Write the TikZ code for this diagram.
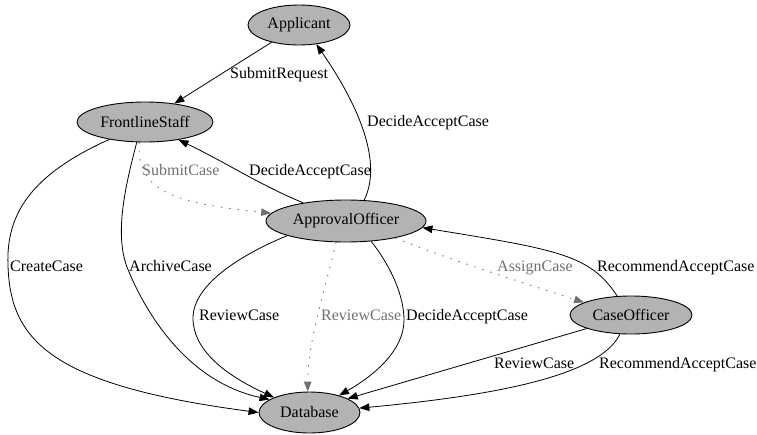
\documentclass[tikz,border=0pt]{standalone}
\usepackage{fontspec}
\setmainfont{Liberation Serif}
\usetikzlibrary{shapes.geometric,arrows.meta}

\definecolor{nodefill}{HTML}{B3B3B3}
\definecolor{dotgray}{HTML}{707070}

\begin{document}
\begin{tikzpicture}[x=1pt,y=-1pt,
  font=\fontsize{16}{18}\selectfont,
  state/.style={ellipse, draw, fill=nodefill, line width=0.9pt, inner sep=0pt},
  flow/.style={draw, line width=0.8pt, -{Triangle[length=10pt,width=7.5pt]}},
  weak/.style={draw=dotgray, line width=0.9pt, dash pattern=on 1.4pt off 7pt,
    -{Triangle[length=10pt,width=7.5pt,fill=dotgray]}},
  lbl/.style={anchor=mid west, inner sep=0pt, yshift=-1.5pt},
  weaklbl/.style={lbl, text=dotgray}]

\useasboundingbox (0,0) rectangle (757,434);

% actors and the shared store
\node[state, minimum width=102pt, minimum height=40pt] (app) at (299,25) {Applicant};
\node[state, minimum width=136pt, minimum height=40pt] (fs) at (145,122) {FrontlineStaff};
\node[state, minimum width=160pt, minimum height=42pt] (ao) at (346,221) {ApprovalOfficer};
\node[state, minimum width=122pt, minimum height=38pt] (co) at (631,315) {CaseOfficer};
\node[state, minimum width=101pt, minimum height=41pt] (db) at (309.5,412.5) {Database};

% interactions between actors
\draw[flow] (app) -- (fs);
\draw[flow] (ao.49) .. controls (384,160) and (355,100) .. (app.-48);
\draw[flow] (ao.157.5) .. controls (260,185) and (225,162) .. (fs.-28.5);
\draw[weak] (fs.-106) .. controls (137,190) and (170,203) .. (ao.174);
\draw[weak] (ao.-19) .. controls (450,260) and (530,285) .. (co.165);
\draw[flow] (co.126) .. controls (590,255) and (560,250) .. (ao.-5.4);

% accesses to the database
\draw[flow] (fs.-154) .. controls (30,175) and (6,215) .. (8,265)
  .. controls (10,340) and (50,385) .. (db.180);
\draw[flow] (fs.-112) .. controls (124,190) and (115,235) .. (127,267)
  .. controls (140,300) and (180,380) .. (db.162);
\draw[flow] (ao.194) .. controls (240,255) and (193,285) .. (193,318)
  .. controls (193,350) and (225,375) .. (db.157);
\draw[weak] (ao.-115) .. controls (325,290) and (308,340) .. (db.95);
\draw[flow] (ao.-39) .. controls (390,265) and (404,295) .. (404,320)
  .. controls (404,350) and (375,375) .. (db.30);
\draw[flow] (co.197) -- (db.20);
\draw[flow] (co.-120) .. controls (600,375) and (500,395) .. (db.5);

% edge labels
\node[lbl] (l1) at (230,75) {SubmitRequest};
\node[lbl] (l2) at (367,123) {DecideAcceptCase};
\node[lbl] (l3) at (249,172) {DecideAcceptCase};
\node[weaklbl] (l4) at (142,172) {SubmitCase};
\node[lbl] (l5) at (10,268) {CreateCase};
\node[lbl] (l6) at (129,268) {ArchiveCase};
\node[lbl] (l7) at (199,317) {ReviewCase};
\node[weaklbl] (l8) at (321,317) {ReviewCase};
\node[lbl] (l9) at (406,317) {DecideAcceptCase};
\node[weaklbl] (l10) at (497,268) {AssignCase};
\node[lbl] (l11) at (597,268) {RecommendAcceptCase};
\node[lbl] (l12) at (494,365) {ReviewCase};
\node[lbl] (l13) at (599,365) {RecommendAcceptCase};
\end{tikzpicture}
\end{document}
